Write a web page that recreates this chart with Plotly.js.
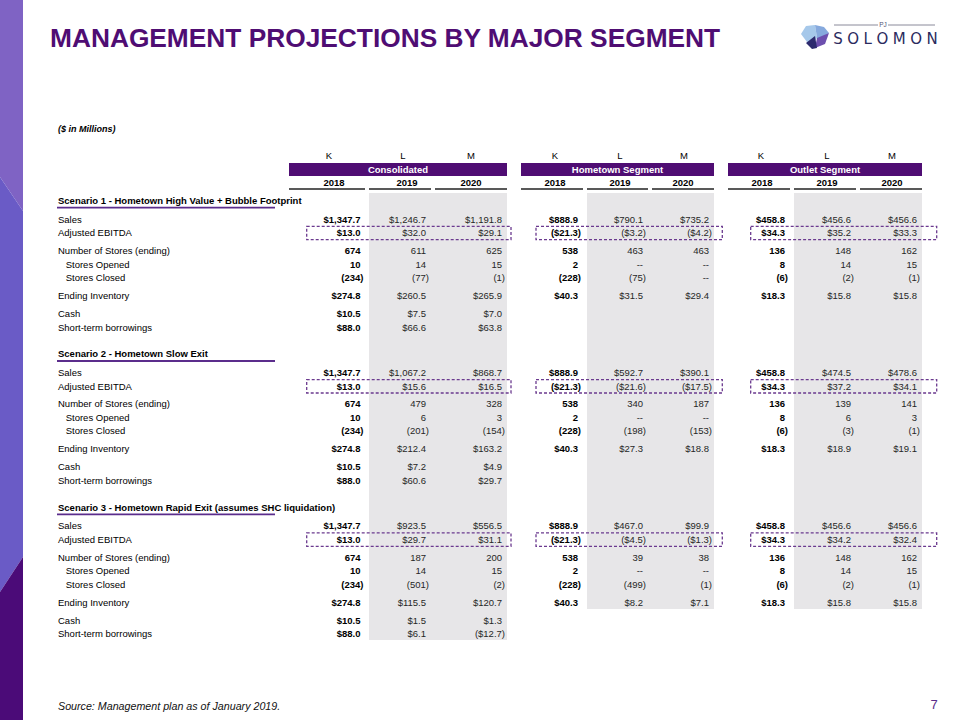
<!DOCTYPE html>
<html><head><meta charset="utf-8">
<script src="https://cdn.plot.ly/plotly-3.0.1.min.js"></script>
<style>html,body{margin:0;padding:0;background:#fff}#chart{width:960px;height:720px}</style>
</head><body><div id="chart"></div>
<script>
// ---------- DATA ----------
const segments = ["Consolidated", "Hometown Segment", "Outlet Segment"];
const years = ["2018", "2019", "2020"];
const colLetters = ["K", "L", "M"];
const rowLabels = ["Sales", "Adjusted EBITDA", "Number of Stores (ending)", "Stores Opened", "Stores Closed", "Ending Inventory", "Cash", "Short-term borrowings"];
const rowIndent = [false, false, false, true, true, false, false, false];
const rowFormats = ["dollar", "dollar", "count", "count", "count", "dollar", "dollar", "dollar"];
const scenarioTitles = [
  "Scenario 1 - Hometown High Value + Bubble Footprint",
  "Scenario 2 - Hometown Slow Exit",
  "Scenario 3 - Hometown Rapid Exit (assumes SHC liquidation)"
];
// columns: Consolidated 2018-2020 | Hometown 2018-2020 | Outlet 2018-2020
const s1Sales     = [1347.7, 1246.7, 1191.8, 888.9, 790.1, 735.2, 458.8, 456.6, 456.6];
const s1Ebitda    = [13.0, 32.0, 29.1, -21.3, -3.2, -4.2, 34.3, 35.2, 33.3];
const s1Stores    = [674, 611, 625, 538, 463, 463, 136, 148, 162];
const s1Opened    = [10, 14, 15, 2, 0, 0, 8, 14, 15];
const s1Closed    = [-234, -77, -1, -228, -75, 0, -6, -2, -1];
const s1Inventory = [274.8, 260.5, 265.9, 40.3, 31.5, 29.4, 18.3, 15.8, 15.8];
const s1Cash      = [10.5, 7.5, 7.0, null, null, null, null, null, null];
const s1Borrow    = [88.0, 66.6, 63.8, null, null, null, null, null, null];

const s2Sales     = [1347.7, 1067.2, 868.7, 888.9, 592.7, 390.1, 458.8, 474.5, 478.6];
const s2Ebitda    = [13.0, 15.6, 16.5, -21.3, -21.6, -17.5, 34.3, 37.2, 34.1];
const s2Stores    = [674, 479, 328, 538, 340, 187, 136, 139, 141];
const s2Opened    = [10, 6, 3, 2, 0, 0, 8, 6, 3];
const s2Closed    = [-234, -201, -154, -228, -198, -153, -6, -3, -1];
const s2Inventory = [274.8, 212.4, 163.2, 40.3, 27.3, 18.8, 18.3, 18.9, 19.1];
const s2Cash      = [10.5, 7.2, 4.9, null, null, null, null, null, null];
const s2Borrow    = [88.0, 60.6, 29.7, null, null, null, null, null, null];

const s3Sales     = [1347.7, 923.5, 556.5, 888.9, 467.0, 99.9, 458.8, 456.6, 456.6];
const s3Ebitda    = [13.0, 29.7, 31.1, -21.3, -4.5, -1.3, 34.3, 34.2, 32.4];
const s3Stores    = [674, 187, 200, 538, 39, 38, 136, 148, 162];
const s3Opened    = [10, 14, 15, 2, 0, 0, 8, 14, 15];
const s3Closed    = [-234, -501, -2, -228, -499, -1, -6, -2, -1];
const s3Inventory = [274.8, 115.5, 120.7, 40.3, 8.2, 7.1, 18.3, 15.8, 15.8];
const s3Cash      = [10.5, 1.5, 1.3, null, null, null, null, null, null];
const s3Borrow    = [88.0, 6.1, -12.7, null, null, null, null, null, null];

const titleText = "MANAGEMENT PROJECTIONS BY MAJOR SEGMENT";
const unitsText = "($ in Millions)";
const sourceText = "Source: Management plan as of January 2019.";
const pageNumber = "7";

// ---------- LAYOUT CONSTANTS ----------
const scenarios = [
  [s1Sales, s1Ebitda, s1Stores, s1Opened, s1Closed, s1Inventory, s1Cash, s1Borrow],
  [s2Sales, s2Ebitda, s2Stores, s2Opened, s2Closed, s2Inventory, s2Cash, s2Borrow],
  [s3Sales, s3Ebitda, s3Stores, s3Opened, s3Closed, s3Inventory, s3Cash, s3Borrow]
];
const FONT = "'Liberation Sans', Arial, sans-serif";
const FS = 9.5;
const PURPLE = "#4f0d73";
const colEdge = [363.5, 429, 505, 581, 646, 712, 788, 854, 920];
const parenPad = 3;
const yearCenter = [334, 407, 471, 555, 620, 683, 762, 827, 892];
const letterCenter = [329, 403, 471, 555, 620, 684, 761, 827, 892];
const underline = [[289,365],[369,431],[435,507],[521,583],[587,648],[652,714],[728,790],[794,856],[860,922]];
const bars = [[289,507],[521,714],[728,922]];
const grayCols = [[369,507,640],[587,714,609],[794,922,609]];
const boxes = [[306.7,511],[536,722.3],[750.7,936.7]];
const scenBase = [200.7, 354, 507.3];
const rowOff = [18.7, 32.3, 50, 63.5, 77, 95, 113, 126.5];
const yShift = 1;

function fmtNum(v, dec) {
  return Math.abs(v).toLocaleString("en-US", {minimumFractionDigits: dec, maximumFractionDigits: dec});
}
function fmt(v, kind) {
  if (kind === "dollar") return v < 0 ? "($" + fmtNum(v, 1) + ")" : "$" + fmtNum(v, 1);
  if (v === 0) return "--";
  return v < 0 ? "(" + fmtNum(v, 0) + ")" : fmtNum(v, 0);
}

const traces = [];
function textTrace(xs, ys, texts, pos, size, color, weight, style, family) {
  traces.push({
    type: "scatter", mode: "text", x: xs, y: ys.map(y => y + yShift), text: texts,
    textposition: pos, cliponaxis: false, hoverinfo: "skip", showlegend: false,
    textfont: {family: family || FONT, size: size, color: color, weight: weight || "normal", style: style || "normal"}
  });
}

// values, one trace per column
for (let c = 0; c < 9; c++) {
  const xs = [], ys = [], ts = [];
  scenarios.forEach((rows, s) => {
    rows.forEach((vals, r) => {
      const v = vals[c];
      if (v === null || v === undefined) return;
      const t = fmt(v, rowFormats[r]);
      xs.push(t.endsWith(")") ? colEdge[c] : colEdge[c] - parenPad);
      ys.push(scenBase[s] + rowOff[r]);
      ts.push(t);
    });
  });
  const first = c % 3 === 0;
  textTrace(xs, ys, ts, "middle left", FS, first ? "#000000" : "#262626", first ? "bold" : "normal");
}

// row labels
{
  const xs = [], ys = [], ts = [];
  scenarios.forEach((rows, s) => {
    rowLabels.forEach((lab, r) => {
      xs.push(rowIndent[r] ? 65.7 : 58);
      ys.push(scenBase[s] + rowOff[r]);
      ts.push(lab);
    });
  });
  textTrace(xs, ys, ts, "middle right", FS, "#000000", "normal");
}
// scenario titles
textTrace(scenBase.map(() => 58), scenBase, scenarioTitles, "middle right", FS, "#000000", "bold");
// column letters & years
textTrace(letterCenter, letterCenter.map(() => 155.7), letterCenter.map((_, i) => colLetters[i % 3]), "middle center", FS, "#000000", "normal");
textTrace(yearCenter, yearCenter.map(() => 182.7), yearCenter.map((_, i) => years[i % 3]), "middle center", FS, "#000000", "bold");
// segment headers
textTrace(bars.map(b => (b[0] + b[1]) / 2), bars.map(() => 169.3), segments, "middle center", FS, "#ffffff", "bold");
// units, source, page number
textTrace([58], [128.5], [unitsText], "middle right", 9, "#000000", "bold", "italic");
textTrace([58], [706.5], [sourceText], "middle right", 10.7, "#111111", "normal", "italic");
textTrace([934], [705], [pageNumber], "middle center", 13, "#5b2d8c", "normal");
// logo text
textTrace([885.5], [39], ["S\u2009\u200aO\u2009\u200aL\u2009\u200aO\u2009\u200aM\u2009\u200aO\u2009\u200aN"], "middle center", 15, "#2b2b5e", "normal", "normal", "'DejaVu Sans', sans-serif");
textTrace([883], [24.5], ["PJ"], "middle center", 6.5, "#555577", "normal");

// ---------- SHAPES ----------
const shapes = [];
function rect(x0, x1, y0, y1, fill, layer) {
  shapes.push({type: "rect", xref: "x", yref: "y", x0, x1, y0, y1, fillcolor: fill, line: {width: 0}, layer: layer || "below"});
}
function path(p, fill) {
  shapes.push({type: "path", xref: "x", yref: "y", path: p, fillcolor: fill, line: {width: 0}, layer: "below"});
}
function line(x0, x1, y0, y1, color, w, dash) {
  shapes.push({type: "line", xref: "x", yref: "y", x0, x1, y0, y1, line: {color, width: w, dash: dash || "solid"}, layer: "above"});
}
// sidebar
path("M0,0 L23,0 L23,211 L0,177 Z", "#7f63c4");
path("M0,177 L23,211 L23,557 L0,592 Z", "#6a5bc6");
path("M0,592 L23,557 L23,720 L0,720 Z", "#4b0b78");
// gray shaded columns
grayCols.forEach(g => rect(g[0], g[1], 193, g[2], "#e7e6e8"));
// header bars
bars.forEach(b => rect(b[0], b[1], 163, 176, PURPLE));
// year underlines
underline.forEach(u => line(u[0], u[1], 189, 189, "#222222", 1.6));
// scenario underlines
scenBase.forEach(y => line(57, 275, y + 7, y + 7, "#5b2d8c", 1.8));
// dashed EBITDA boxes
scenBase.forEach(y => {
  const yc = y + rowOff[1];
  boxes.forEach(b => shapes.push({type: "rect", xref: "x", yref: "y", x0: b[0], x1: b[1], y0: yc - 6.7, y1: yc + 6.7,
    line: {color: "#6b3a8f", width: 1.3, dash: "3px,2px"}, fillcolor: "rgba(0,0,0,0)", layer: "above"}));
});
// logo icon
path("M801,34 L806,26 L815,25 L817,38 L810,46 Z", "#a6c8ea");
path("M815,25 L824,27 L829,33 L821,38 L817,38 Z", "#86a9dd");
path("M817,38 L829,33 L825,44 L815,48 Z", "#6d4fae");
path("M806,43 L815,36 L817,48 L812,49 Z", "#2d2a6e");
line(834, 878, 25, 25, "#8a8a9a", 1);
line(888, 935, 25, 25, "#8a8a9a", 1);

const layout = {
  width: 960, height: 720,
  margin: {l: 0, r: 0, t: 0, b: 0},
  paper_bgcolor: "#ffffff", plot_bgcolor: "#ffffff",
  title: {text: titleText, x: 50 / 960, xanchor: "left", xref: "paper", y: 1 - 37.8 / 720, yanchor: "middle", yref: "paper",
    font: {family: "'Liberation Sans', Arial, sans-serif", size: 26.3, color: PURPLE, weight: "bold"}},
  xaxis: {range: [0, 960], visible: false, fixedrange: true},
  yaxis: {range: [720, 0], visible: false, fixedrange: true},
  showlegend: false, hovermode: false,
  shapes: shapes
};
Plotly.newPlot("chart", traces, layout, {staticPlot: true, displayModeBar: false});
</script>
</body></html>
